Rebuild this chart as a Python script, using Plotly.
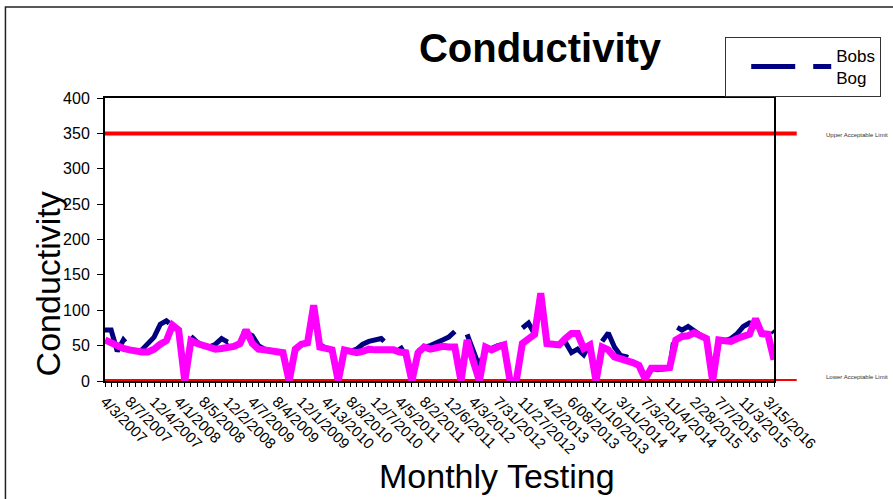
import plotly.graph_objects as go

dates = [
    "4/3/2007", "5/1/2007", "6/5/2007", "7/3/2007",
    "8/7/2007", "9/4/2007", "10/2/2007", "11/6/2007",
    "12/4/2007", "1/8/2008", "2/5/2008", "3/4/2008",
    "4/1/2008", "5/6/2008", "6/3/2008", "7/1/2008",
    "8/5/2008", "9/2/2008", "10/7/2008", "11/4/2008",
    "12/2/2008", "1/6/2009", "2/3/2009", "3/3/2009",
    "4/7/2009", "5/5/2009", "6/2/2009", "7/7/2009",
    "8/4/2009", "9/1/2009", "10/6/2009", "11/3/2009",
    "12/1/2009", "1/5/2010", "2/2/2010", "3/9/2010",
    "4/13/2010", "5/4/2010", "6/1/2010", "7/6/2010",
    "8/3/2010", "9/7/2010", "10/5/2010", "11/2/2010",
    "12/7/2010", "1/4/2011", "2/1/2011", "3/1/2011",
    "4/5/2011", "5/3/2011", "6/7/2011", "7/5/2011",
    "8/2/2011", "9/6/2011", "10/4/2011", "11/1/2011",
    "12/6/2011", "1/3/2012", "2/7/2012", "3/6/2012",
    "4/3/2012", "5/1/2012", "6/5/2012", "7/3/2012",
    "7/31/2012", "8/28/2012", "9/25/2012", "10/30/2012",
    "11/27/2012", "1/8/2013", "2/5/2013", "3/5/2013",
    "4/2/2013", "4/30/2013", "5/14/2013", "5/28/2013",
    "6/08/2013", "7/9/2013", "8/13/2013", "9/10/2013",
    "11/10/2013", "12/10/2013", "1/14/2014", "2/11/2014",
    "3/11/2014", "4/8/2014", "5/6/2014", "6/3/2014",
    "7/3/2014", "8/5/2014", "9/2/2014", "10/7/2014",
    "11/4/2014", "12/2/2014", "1/6/2015", "2/3/2015",
    "2/28/2015", "4/7/2015", "5/5/2015", "6/2/2015",
    "7/7/2015", "8/4/2015", "9/1/2015", "10/6/2015",
    "11/3/2015", "12/1/2015", "1/12/2016", "2/9/2016",
    "3/15/2016", "4/12/2016",
]

tick_labels = [
    "4/3/2007", "8/7/2007", "12/4/2007", "4/1/2008", "8/5/2008", "12/2/2008",
    "4/7/2009", "8/4/2009", "12/1/2009", "4/13/2010", "8/3/2010", "12/7/2010",
    "4/5/2011", "8/2/2011", "12/6/2011", "4/3/2012", "7/31/2012", "11/27/2012",
    "4/2/2013", "6/08/2013", "11/10/2013", "3/11/2014", "7/3/2014", "11/4/2014",
    "2/28/2015", "7/7/2015", "11/3/2015", "3/15/2016",
]

# Bobs Bog (navy, dashed) - None where no sample
bobs_bog = [
    72, 72, 42, 58, 48, 44, 44, 52, 62, 80,
    85, 78, 75, None, 63, 55, 50, 48, 52, 60,
    55, 60, 70, 68, 64, 50, 45, 43, 42, 40,
    None, 45, 52, 54, 100, 52, 46, 44, None, 44,
    42, 45, 52, 56, 58, 60, 52, 48, 50, 36,
    None, 42, 48, 50, 55, 58, 62, 70, None, 66,
    45, 20, 48, 46, 50, 52, None, None, 75, 82,
    66, 120, 55, 52, 58, 55, 40, 45, 37, 52,
    None, 56, 68, 48, 36, 34, 28, 24, None, 18,
    16, 17, 19, 77, 72, 77, 70, 65, 60, None,
    58, 57, 60, 67, 77, 82, 80, 77, 77, 68,
]

# Second series (magenta, solid)
series2 = [
    58, 54, 49, 46, 44, 42, 41, 41, 45, 52,
    57, 79, 72, 0, 57, 53, 50, 47, 45, 46,
    47, 49, 53, 72, 53, 45, 44, 43, 42, 40,
    0, 45, 52, 54, 107, 48, 46, 44, 0, 44,
    42, 40, 42, 45, 44, 44, 45, 44, 41, 40,
    0, 40, 48, 45, 47, 49, 48, 48, 0, 58,
    28, 0, 48, 44, 48, 51, 0, 0, 53, 60,
    66, 124, 53, 52, 51, 60, 67, 67, 46, 51,
    0, 48, 44, 34, 32, 29, 26, 22, 3, 18,
    17, 18, 19, 58, 63, 64, 68, 65, 60, 0,
    58, 57, 56, 60, 63, 66, 88, 67, 66, 30,
]

upper_limit = 350
lower_limit = 0
y_ticks = [0, 50, 100, 150, 200, 250, 300, 350, 400]

FONT = "Arial, Liberation Sans, sans-serif"

fig = go.Figure()
fig.add_trace(go.Scatter(
    x=dates, y=bobs_bog, mode="lines", name="Bobs<br>Bog",
    line=dict(color="#000080", width=5, dash="44px,18px"),
    connectgaps=False,
))
fig.add_trace(go.Scatter(
    x=dates, y=series2, mode="lines", name="Series2", showlegend=False,
    line=dict(color="#FF00FF", width=7),
))

# limit lines
for lim in (upper_limit, lower_limit):
    fig.add_shape(type="line", xref="paper", yref="y", x0=0, x1=1.034,
                  y0=lim, y1=lim, line=dict(color="#FF0000", width=4),
                  layer="below")

# outer chart border
fig.add_shape(type="rect", xref="paper", yref="paper",
              x0=-0.1488, x1=1.2, y0=-0.5, y1=1.3216,
              line=dict(color="#222222", width=1.5))

fig.add_annotation(text="Upper Acceptable Limit", xref="paper", yref="y",
                   x=1.074, y=upper_limit - 2, xanchor="left", yanchor="middle",
                   showarrow=False, font=dict(family=FONT, size=6, color="#333"))
fig.add_annotation(text="Lower Acceptable Limit", xref="paper", yref="y",
                   x=1.074, y=lower_limit + 6, xanchor="left", yanchor="middle",
                   showarrow=False, font=dict(family=FONT, size=6, color="#333"))

fig.add_annotation(text="Conductivity", xref="paper", yref="paper",
                   x=-0.086, y=0.343, textangle=-90, showarrow=False,
                   xanchor="center", yanchor="middle",
                   font=dict(family=FONT, size=34, color="black"))
fig.add_annotation(text="Monthly Testing", xref="paper", yref="paper",
                   x=(499 - 105) / 672, y=(381 - 476) / 283,
                   xanchor="center", yanchor="middle",
                   showarrow=False, font=dict(family=FONT, size=34, color="black"))

ticktext = [d if d in tick_labels else "" for d in dates]

fig.update_layout(
    width=893, height=499,
    margin=dict(l=105, r=116, t=98, b=118),
    paper_bgcolor="white", plot_bgcolor="white",
    title=dict(text="<b>Conductivity</b>", x=540 / 893, xanchor="center",
               y=1 - 48 / 499, yanchor="middle", xref="container", yref="container",
               font=dict(family=FONT, size=40, color="black")),
    xaxis=dict(type="category", range=[0, len(dates) - 1],
               tickmode="array", tickvals=dates, ticktext=ticktext,
               tickangle=45, ticks="outside", ticklen=4, tickcolor="black",
               tickfont=dict(family=FONT, size=15, color="black"),
               showline=True, linecolor="black", linewidth=2, mirror=True,
               showgrid=False, zeroline=False),
    yaxis=dict(range=[0, 400], tickvals=y_ticks, ticks="outside", ticklen=6,
               tickcolor="black", tickfont=dict(family=FONT, size=16, color="black"),
               showline=True, linecolor="black", linewidth=2, mirror=True,
               showgrid=False, zeroline=False, ticklabelstandoff=4),
    legend=dict(x=(728 - 105) / 672, y=(381 - 37) / 283, xanchor="left", yanchor="top",
                bgcolor="white", bordercolor="#333", borderwidth=1, indentation=20,
                font=dict(family=FONT, size=17, color="black"), itemwidth=80),
    showlegend=True,
)

fig.write_html("out.html", config={"displayModeBar": False},
               post_script="document.body.style.margin='0';")
